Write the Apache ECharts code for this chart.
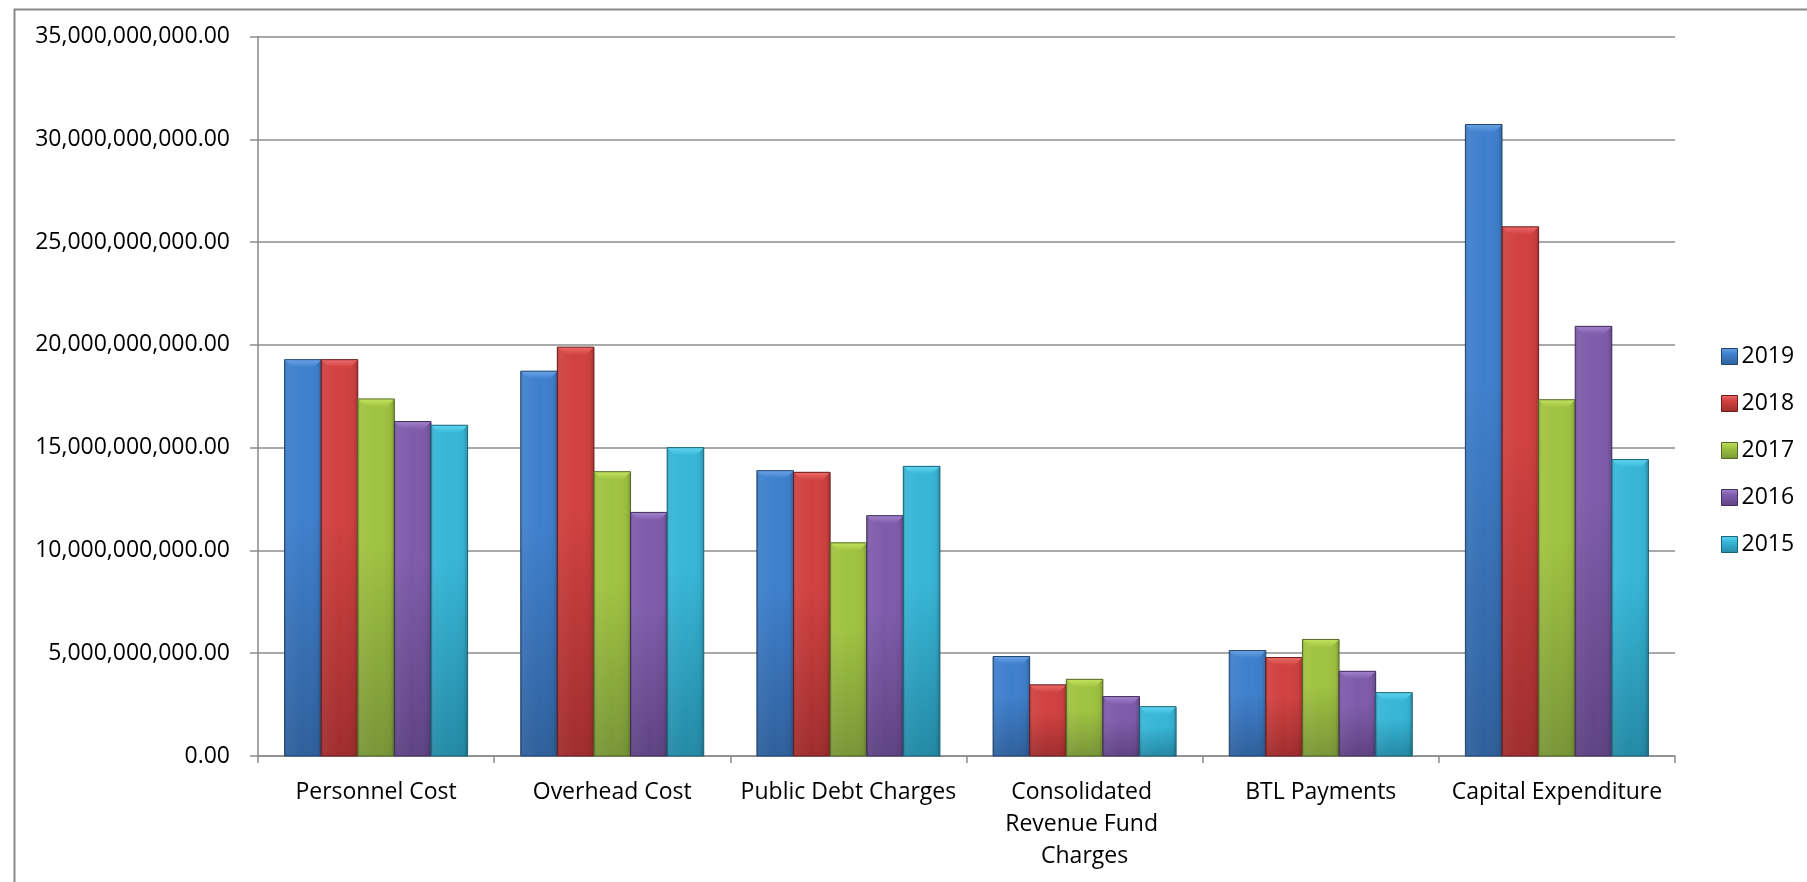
<!DOCTYPE html>
<html>
<head>
<meta charset="utf-8">
<title>Expenditure by Category, 2015–2019</title>
<script src="https://cdn.jsdelivr.net/npm/echarts@6/dist/echarts.min.js"></script>
<style>
  html, body { margin: 0; padding: 0; background: #ffffff; }
  #chart { width: 1807px; height: 882px; }
</style>
</head>
<body>
<div id="chart"></div>
<script>
// Expenditure categories along the x axis
const categories = [
  'Personnel Cost',
  'Overhead Cost',
  'Public Debt Charges',
  'Consolidated Revenue Fund Charges',
  'BTL Payments',
  'Capital Expenditure'
];

// Yearly amounts per category
const years = ['2019', '2018', '2017', '2016', '2015'];
const values2019 = [19.28e9, 18.72e9, 13.88e9, 4.84e9, 5.13e9, 30.72e9];
const values2018 = [19.28e9, 19.89e9, 13.80e9, 3.46e9, 4.79e9, 25.74e9];
const values2017 = [17.37e9, 13.83e9, 10.37e9, 3.73e9, 5.67e9, 17.33e9];
const values2016 = [16.27e9, 11.85e9, 11.69e9, 2.89e9, 4.12e9, 20.90e9];
const values2015 = [16.09e9, 15.00e9, 14.09e9, 2.40e9, 3.08e9, 14.42e9];
const seriesValues = [values2019, values2018, values2017, values2016, values2015];

// Value axis ticks
const yMin = 0;
const yMax = 35e9;
const yStep = 5e9;

// Shades per year: [bevel, body top, body bottom, edge]
const palette = [
  ['#6aa3e6', '#3f80cd', '#2f609c', '#22466f'],
  ['#ec6a6a', '#d14141', '#a02d2d', '#6b1d1d'],
  ['#c3e25e', '#9fc341', '#789637', '#536826'],
  ['#a283cc', '#7f5cab', '#5f4383', '#412e5b'],
  ['#5fd6f0', '#37b6d7', '#248aa6', '#186377']
];

const FONT = '"Open Sans", "Noto Sans", sans-serif';
const GROUP_FILL = 0.775;   // share of a category taken by its bar group
const BEVEL = 8;            // bevel depth in px

// Bevelled column drawn from the axis scales
function renderBar(params, api) {
  const k = params.seriesIndex;
  const p = palette[k];
  const base = api.coord([api.value(0), 0]);
  const top = api.coord([api.value(0), api.value(1)]);
  const catW = api.size([1, 0])[0];
  const groupW = catW * GROUP_FILL;
  const barW = groupW / years.length;
  const x0 = base[0] - groupW / 2 + k * barW;
  const x1 = x0 + barW;
  const yT = top[1];
  const yB = base[1];
  const b = Math.min(BEVEL, (yB - yT) / 2);

  return {
    type: 'group',
    children: [
      {
        type: 'rect',
        shape: { x: x0, y: yT, width: barW, height: yB - yT },
        style: {
          fill: new echarts.graphic.LinearGradient(0, 0, 0, 1, [
            { offset: 0, color: p[1] },
            { offset: 0.4, color: p[1] },
            { offset: 1, color: p[2] }
          ])
        }
      },
      {
        type: 'rect',
        shape: { x: x0, y: yT, width: barW, height: yB - yT },
        style: {
          fill: new echarts.graphic.LinearGradient(0, 0, 1, 0, [
            { offset: 0, color: 'rgba(0,0,0,0.18)' },
            { offset: 0.08, color: 'rgba(255,255,255,0.05)' },
            { offset: 0.5, color: 'rgba(255,255,255,0)' },
            { offset: 0.9, color: 'rgba(0,0,0,0.04)' },
            { offset: 1, color: 'rgba(0,0,0,0.22)' }
          ])
        }
      },
      {
        type: 'polygon',
        shape: { points: [[x0, yT], [x1, yT], [x1 - b, yT + b], [x0 + b, yT + b]] },
        style: {
          fill: new echarts.graphic.LinearGradient(0, 0, 0, 1, [
            { offset: 0, color: p[0] },
            { offset: 1, color: p[1] }
          ])
        }
      },
      {
        type: 'rect',
        shape: { x: x0, y: yT, width: barW, height: yB - yT },
        style: { fill: 'none', stroke: p[3], lineWidth: 1 }
      }
    ]
  };
}

const chart = echarts.init(document.getElementById('chart'), null, { renderer: 'canvas' });

const option = {
  backgroundColor: '#ffffff',
  animation: false,
  textStyle: { fontFamily: FONT },
  graphic: [{
    type: 'rect',
    left: 12,
    top: 7,
    shape: { width: 1820, height: 900 },
    style: { fill: 'none', stroke: '#8a8a8a', lineWidth: 2 },
    silent: true
  }],
  grid: {
    left: 258,
    right: 132,
    top: 36.5,
    bottom: 126,
    containLabel: false
  },
  legend: {
    orient: 'vertical',
    left: 1716,
    top: 340,
    itemWidth: 16,
    itemHeight: 16,
    itemGap: 24,
    icon: 'rect',
    textStyle: { fontFamily: FONT, fontSize: 23, color: '#000000', padding: [0, 0, 0, -1] },
    data: years.map((y, i) => ({
      name: y,
      itemStyle: {
        color: new echarts.graphic.LinearGradient(0, 0, 0, 1, [
          { offset: 0, color: palette[i][0] },
          { offset: 0.35, color: palette[i][1] },
          { offset: 1, color: palette[i][2] }
        ]),
        borderColor: palette[i][3],
        borderWidth: 1
      }
    }))
  },
  xAxis: {
    type: 'category',
    data: categories,
    axisLine: { lineStyle: { color: '#8a8a8a', width: 1.5 } },
    axisTick: { show: true, length: 7, lineStyle: { color: '#8a8a8a', width: 1.5 } },
    axisLabel: {
      interval: 0,
      margin: 20,
      color: '#000000',
      fontFamily: FONT,
      fontSize: 23,
      lineHeight: 32,
      width: 232,
      overflow: 'break',
      align: 'center'
    }
  },
  yAxis: {
    type: 'value',
    min: yMin,
    max: yMax,
    interval: yStep,
    axisLine: { show: true, lineStyle: { color: '#8a8a8a', width: 1.5 } },
    axisTick: { show: true, length: 8, lineStyle: { color: '#8a8a8a', width: 1.5 } },
    splitLine: { lineStyle: { color: '#8c8c8c', width: 1.5 } },
    axisLabel: {
      margin: 28,
      color: '#000000',
      fontFamily: FONT,
      fontSize: 23,
      formatter: v => v.toLocaleString('en-US', { minimumFractionDigits: 2, maximumFractionDigits: 2 })
    }
  },
  series: years.map((y, i) => ({
    name: y,
    type: 'custom',
    renderItem: renderBar,
    encode: { x: 0, y: 1 },
    itemStyle: { color: palette[i][1] },
    data: seriesValues[i].map((v, c) => [c, v]),
    emphasis: { disabled: true },
    z: 3
  }))
};

chart.setOption(option);
</script>
</body>
</html>
